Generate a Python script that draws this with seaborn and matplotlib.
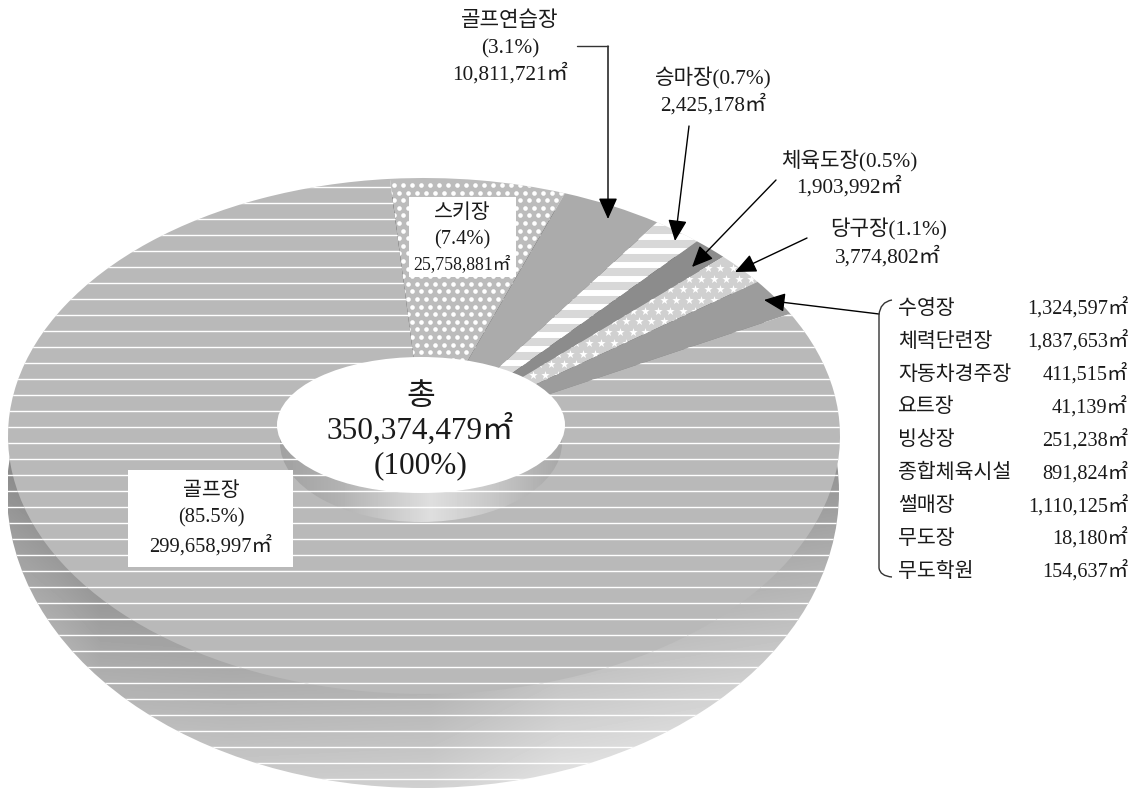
import matplotlib
matplotlib.use('Agg')

import numpy as np
import matplotlib.pyplot as plt
import seaborn as sns
from matplotlib.patches import Ellipse, PathPatch, Rectangle
from matplotlib.path import Path

# slices as they are drawn in the picture (degrees, clockwise from the ski slice)
slice_names = ['스키장', '골프연습장', '승마장', '체육도장', '당구장', '기타', '골프장']
slice_degrees = [24.5, 14.3, 6.9, 5.0, 7.3, 8.4, 293.6]
slice_colors = ['#bcbcbc', '#ababab', '#d8d8d8', '#8c8c8c', '#d0d0d0', '#9c9c9c', '#b9b9b9']

detail_names = ['수영장', '체력단련장', '자동차경주장', '요트장', '빙상장', '종합체육시설', '썰매장', '무도장', '무도학원']
detail_areas = ['1,324,597㎡', '1,837,653㎡', '411,515㎡', '41,139㎡', '251,238㎡', '891,824㎡', '1,110,125㎡', '18,180㎡', '154,637㎡']

W, H = 1136, 790
CX, CY, RX, RY = 424, 436, 416, 258

sns.set_theme(style='white')
plt.rcParams['font.family'] = ['Liberation Serif', 'Noto Sans CJK KR']
plt.rcParams['text.color'] = '#1a1a1a'

fig = plt.figure(figsize=(W / 100, H / 100), dpi=100, facecolor='white')


def pixel_axes(zorder):
    ax = fig.add_axes([0, 0, 1, 1], zorder=zorder)
    ax.patch.set_visible(False)
    ax.axis('off')
    return ax


def gradient(ax, xs, greys, extent, clip, y_slope=0.0, y_mid=0):
    # grey ramp clipped to a shape, lighter towards the bottom when y_slope is set
    col = np.arange(extent[0], extent[1])
    rows = np.arange(extent[3], extent[2])
    img = np.interp(col, xs, greys)[None, :] + y_slope * (rows[:, None] - y_mid)
    im = ax.imshow(img, extent=extent, aspect='auto', cmap='gray', vmin=0, vmax=255, origin='upper')
    im.set_clip_path(clip)


# side of the disc, under the top face
under = pixel_axes(1)
side = Ellipse((CX - 1, 492), 2 * RX, 2 * 296, fc='none', ec='none', transform=under.transData)
under.add_patch(side)
gradient(under, [8, 60, 100, 230, 430, 560, 700, 840],
         [178, 165, 152, 149, 152, 172, 180, 187], (8, 842, 790, 180), side, 0.3, 600)
under.hlines(np.arange(187, 790, 16), 0, W, color='white', lw=1.0).set_clip_path(side)
under.set_xlim(0, W)
under.set_ylim(H, 0)

# top face
ax_pie = fig.add_axes([(CX - RX) / W, 1 - (CY + RY) / H, 2 * RX / W, 2 * RY / H], zorder=2)
wedges, _ = ax_pie.pie(slice_degrees, colors=slice_colors, startangle=94.7, counterclock=False,
                       radius=1, wedgeprops=dict(edgecolor='none', linewidth=0))
ax_pie.set_aspect('auto')
ax_pie.set_xlim(-1, 1)
ax_pie.set_ylim(-1, 1)
wedge = dict(zip(slice_names, wedges))

ax = pixel_axes(3)

# patterns on the slices
ax.hlines(np.arange(187, 790, 16), 0, W, color='white', lw=1.0).set_clip_path(wedge['골프장'])
ax.hlines(np.arange(181, 400, 14), 380, 760, color='white', lw=4.3).set_clip_path(wedge['승마장'])

dot_x, dot_y = [], []
for i, y in enumerate(np.arange(185, 370, 7.6)):
    for x in np.arange(376, 590, 9):
        dot_x.append(x + (i % 2) * 4.5)
        dot_y.append(y)
ax.scatter(dot_x, dot_y, s=11, c='white', linewidths=0).set_clip_path(wedge['스키장'])

star_x, star_y = [], []
for i, y in enumerate(np.arange(268, 420, 10.7)):
    for x in np.arange(470, 790, 12.5):
        star_x.append(x + (i % 2) * 6.2)
        star_y.append(y)
ax.scatter(star_x, star_y, s=40, c='white', marker='*', linewidths=0).set_clip_path(wedge['당구장'])

# hole in the middle
wall = Ellipse((421, 443), 2 * 141, 2 * 79, fc='none', ec='none', transform=ax.transData)
ax.add_patch(wall)
gradient(ax, [277, 340, 430, 490, 565], [160, 178, 222, 200, 165], (275, 567, 530, 360), wall)
ax.add_patch(Ellipse((421, 425), 288, 136, fc='white', ec='none', zorder=3))

# white label boxes
ax.add_patch(Rectangle((409, 197), 107, 80, fc='white', ec='none', zorder=3))
ax.add_patch(Rectangle((128, 470), 165, 97, fc='white', ec='none', zorder=3))


def label(x, y, s, size=15.3, ha='center'):
    # y is the middle of the digits, written on the baseline so both fonts line up
    ax.text(x, y + 0.33 * size * 100 / 72, s, fontsize=size, ha=ha, va='baseline', zorder=5)


label(421, 395, '총', 22.5)
label(420, 429, '350,374,479㎡', 22.5)
label(421, 463, '(100%)', 22.5)

label(211, 489, slice_names[6], 14.8)
label(211, 516, '(85.5%)', 14.8)
label(211, 545, '299,658,997㎡', 14.8)

label(462, 211, slice_names[0], 14.8)
label(462, 238, '(7.4%)', 14.8)
label(462, 263, '25,758,881㎡', 12.8)

label(510, 19, slice_names[1])
label(510, 46, '(3.1%)')
label(510, 73, '10,811,721㎡')
label(713, 77, '승마장(0.7%)')
label(713, 104, '2,425,178㎡')
label(849, 160, '체육도장(0.5%)')
label(849, 186, '1,903,992㎡')
label(888, 228, '당구장(1.1%)')
label(888, 256, '3,774,802㎡')

for i, (name, area) in enumerate(zip(detail_names, detail_areas)):
    y = 307 + i * 32.9
    label(898, y, name, 14.8, ha='left')
    label(1128, y, area, 14.6, ha='right')

# arrows
head = '-|>,head_length=1.3,head_width=0.58'
arrows = [((608, 46), (608, 219)), ((689, 126), (675, 241)), ((776, 180), (692, 267)),
          ((807, 238), (735, 272)), ((879, 314), (764, 300))]
for start, tip in arrows:
    ax.annotate('', xy=tip, xytext=start, zorder=6,
                arrowprops=dict(arrowstyle=head, mutation_scale=10, lw=1, color='black',
                                shrinkA=0, shrinkB=0))
ax.plot([577, 608], [46, 46], color='#333333', lw=1, zorder=6)

# bracket of the detail table
bracket = Path([(892, 300), (880, 302), (879, 315), (879, 568), (880, 576), (892, 577)],
               [Path.MOVETO, Path.CURVE3, Path.CURVE3, Path.LINETO, Path.CURVE3, Path.CURVE3])
ax.add_patch(PathPatch(bracket, fc='none', ec='#333333', lw=1, zorder=6))

ax.set_xlim(0, W)
ax.set_ylim(H, 0)

fig.savefig('out.png', dpi=100)
plt.close(fig)
